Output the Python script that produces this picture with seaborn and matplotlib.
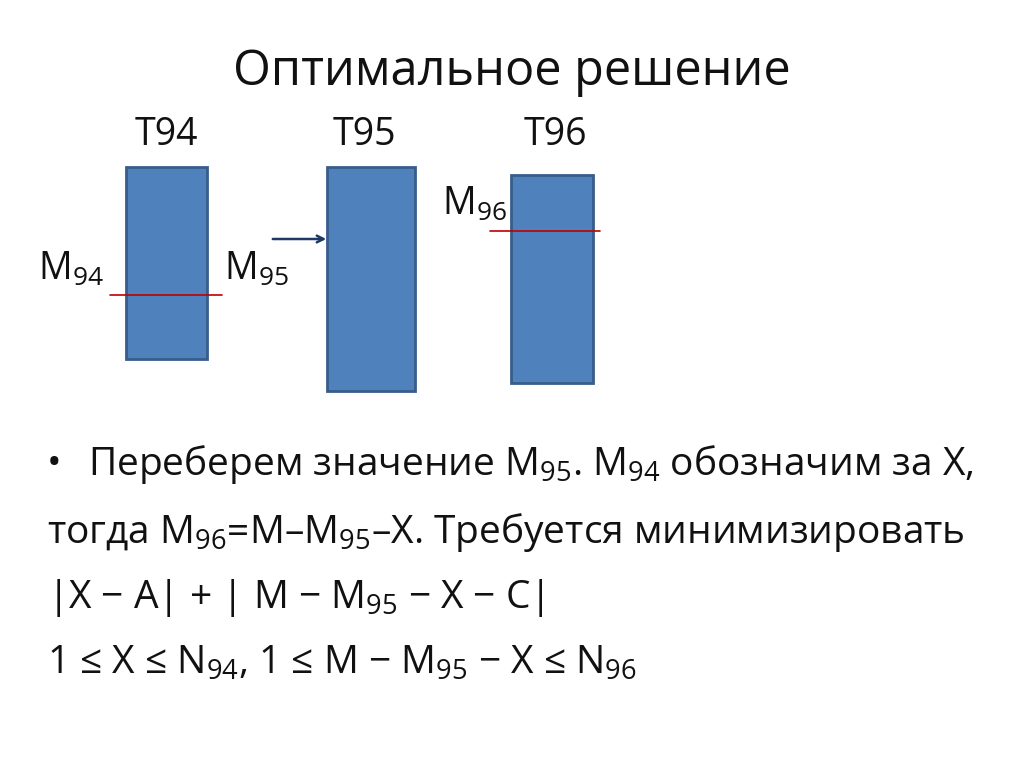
import matplotlib
matplotlib.use("Agg")
import matplotlib.pyplot as plt
import seaborn as sns

sns.set_theme(style="white")
plt.rcParams['font.family'] = ['Open Sans', 'DejaVu Sans']
plt.rcParams['mathtext.fontset'] = 'custom'
plt.rcParams['mathtext.rm'] = 'Open Sans'
plt.rcParams['mathtext.default'] = 'regular'

categories = ["T94", "T95", "T96"]
bar_centers = [166, 371, 552]
bar_tops = [167, 167, 175]
bar_bottoms = [359, 391, 383]
widths = [81, 88, 82]

fig = plt.figure(figsize=(10.24, 7.67), dpi=100)
ax = fig.add_axes([0, 0, 1, 1])
ax.set_xlim(0, 1024)
ax.set_ylim(767, 0)
ax.axis("off")

ax.bar(bar_centers, [b - t for b, t in zip(bar_bottoms, bar_tops)], bottom=bar_tops,
       width=widths, color="#4f81bd", edgecolor="#385d8a", linewidth=2)

tc = "#111111"
ax.text(512, 72, "Оптимальное решение", ha="center", va="center", fontsize=35, color=tc)
for c, x in zip(categories, [166, 364, 555]):
    ax.text(x, 135, c, ha="center", va="center", fontsize=27, color=tc)

ax.plot([110, 222], [295, 295], color="#c00000", lw=1.2)
ax.plot([490, 600], [231, 231], color="#c00000", lw=1.2)
ax.annotate("", xy=(329, 239), xytext=(270, 239),
            arrowprops=dict(arrowstyle="->", color="#1f3864", lw=1.8))

ax.text(38, 270, "M$_{94}$", ha="left", va="center", fontsize=27, color=tc)
ax.text(224, 270, "M$_{95}$", ha="left", va="center", fontsize=27, color=tc)
ax.text(442, 205, "M$_{96}$", ha="left", va="center", fontsize=27, color=tc)

fs = 28
ax.text(47, 465, "•", ha="left", va="center", fontsize=fs, color=tc)
ax.text(88, 465, "Переберем значение M$_{95}$. M$_{94}$ обозначим за X,", ha="left", va="center", fontsize=fs, color=tc)
ax.text(47, 532, "тогда M$_{96}$=M–M$_{95}$–X. Требуется минимизировать", ha="left", va="center", fontsize=fs, color=tc)
ax.text(47, 598, "|X − A| + | M − M$_{95}$ − X − C|", ha="left", va="center", fontsize=fs, color=tc)
ax.text(47, 664, "1 ≤ X ≤ N$_{94}$, 1 ≤ M − M$_{95}$ − X ≤ N$_{96}$", ha="left", va="center", fontsize=fs, color=tc)

fig.savefig("out.png", dpi=100)
